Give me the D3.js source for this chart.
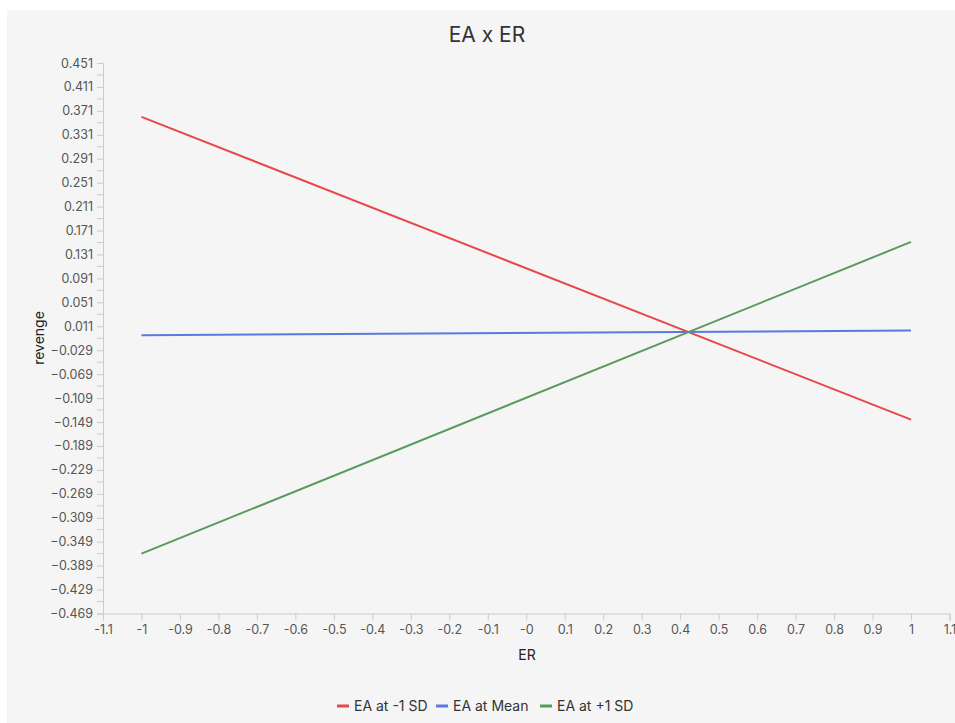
<!DOCTYPE html>
<html>
<head>
<meta charset="utf-8">
<script src="https://cdn.jsdelivr.net/npm/d3@7"></script>
<style>
  html, body { margin: 0; padding: 0; background: #ffffff; }
  svg { display: block; }
</style>
</head>
<body>
<script>
// ---- Data ----
const title = "EA x ER";
const xLabel = "ER";
const yLabel = "revenge";
const xValues = [-1, 1];
const seriesNames = ["EA at -1 SD", "EA at Mean", "EA at +1 SD"];
const seriesColors = ["#e8474b", "#5b79e0", "#5b9a5d"];
const redValues = [0.361, -0.145];
const blueValues = [-0.004, 0.004];
const greenValues = [-0.369, 0.152];
const yTicks = [0.451, 0.411, 0.371, 0.331, 0.291, 0.251, 0.211, 0.171, 0.131, 0.091, 0.051, 0.011,
  -0.029, -0.069, -0.109, -0.149, -0.189, -0.229, -0.269, -0.309, -0.349, -0.389, -0.429, -0.469];
const xTicks = [-1.1, -1, -0.9, -0.8, -0.7, -0.6, -0.5, -0.4, -0.3, -0.2, -0.1, 0, 0.1, 0.2, 0.3, 0.4, 0.5, 0.6, 0.7, 0.8, 0.9, 1, 1.1];
const xTickLabels = ["-1.1", "-1", "-0.9", "-0.8", "-0.7", "-0.6", "-0.5", "-0.4", "-0.3", "-0.2", "-0.1", "-0", "0.1", "0.2", "0.3", "0.4", "0.5", "0.6", "0.7", "0.8", "0.9", "1", "1.1"];

const allSeries = [redValues, blueValues, greenValues];

// ---- Layout ----
const W = 955, H = 723;
const font = "Inter, 'Open Sans', sans-serif";
const svg = d3.select("body").append("svg").attr("width", W).attr("height", H);

svg.append("rect").attr("x", 7).attr("y", 10).attr("width", W - 7).attr("height", H - 10).attr("fill", "#f5f5f5");

const x = d3.scaleLinear().domain([-1.1, 1.1]).range([103, 949.5]);
const y = d3.scaleLinear().domain([-0.469, 0.451]).range([613.5, 63]);

// Title
svg.append("text").attr("x", 487).attr("y", 42).attr("text-anchor", "middle")
  .attr("font-family", font).attr("font-size", 21).attr("fill", "#333").text(title);

// Y axis
const yMinor = [];
for (let i = 0; i < yTicks.length - 1; i++) yMinor.push((yTicks[i] + yTicks[i + 1]) / 2);

const yAxisG = svg.append("g").attr("transform", "translate(103,0)");
yAxisG.call(d3.axisLeft(y).tickValues(yTicks).tickFormat(d3.format(".3f")).tickSize(6).tickPadding(4))
  .call(g => g.select(".domain").attr("stroke", "#cccccc"))
  .call(g => g.selectAll(".tick line").attr("stroke", "#cccccc"))
  .call(g => g.selectAll(".tick text").attr("font-family", font).attr("font-size", 12.5).attr("fill", "#555"));
yAxisG.selectAll(".minor").data(yMinor).enter().append("line")
  .attr("x1", -6).attr("x2", 0).attr("y1", d => y(d)).attr("y2", d => y(d)).attr("stroke", "#cccccc");

// X axis
svg.append("g").attr("transform", "translate(0,613.5)")
  .call(d3.axisBottom(x).tickValues(xTicks).tickFormat((d, i) => xTickLabels[i]).tickSize(7).tickPadding(5))
  .call(g => g.select(".domain").attr("stroke", "#cccccc"))
  .call(g => g.selectAll(".tick line").attr("stroke", "#cccccc"))
  .call(g => g.selectAll(".tick text").attr("font-family", font).attr("font-size", 12.5).attr("fill", "#555"));

// Axis labels
svg.append("text").attr("x", 527).attr("y", 660).attr("text-anchor", "middle")
  .attr("font-family", font).attr("font-size", 14).attr("fill", "#222").text(xLabel);
svg.append("text").attr("transform", "translate(44,338) rotate(-90)").attr("text-anchor", "middle")
  .attr("font-family", font).attr("font-size", 14).attr("fill", "#222").text(yLabel);

// Lines
const line = d3.line().x((d, i) => x(xValues[i])).y(d => y(d));
allSeries.forEach((vals, i) => {
  svg.append("path").datum(vals).attr("d", line).attr("fill", "none")
    .attr("stroke", seriesColors[i]).attr("stroke-width", 2);
});

// Legend
const legendY = 706;
const legendX = [337, 436, 540];
seriesNames.forEach((name, i) => {
  const g = svg.append("g").attr("transform", `translate(${legendX[i]},${legendY})`);
  g.append("line").attr("x1", 0).attr("x2", 12).attr("y1", 0).attr("y2", 0)
    .attr("stroke", seriesColors[i]).attr("stroke-width", 3);
  g.append("text").attr("x", 17).attr("y", 5).attr("font-family", font).attr("font-size", 14)
    .attr("fill", "#333").text(name);
});
</script>
</body>
</html>
